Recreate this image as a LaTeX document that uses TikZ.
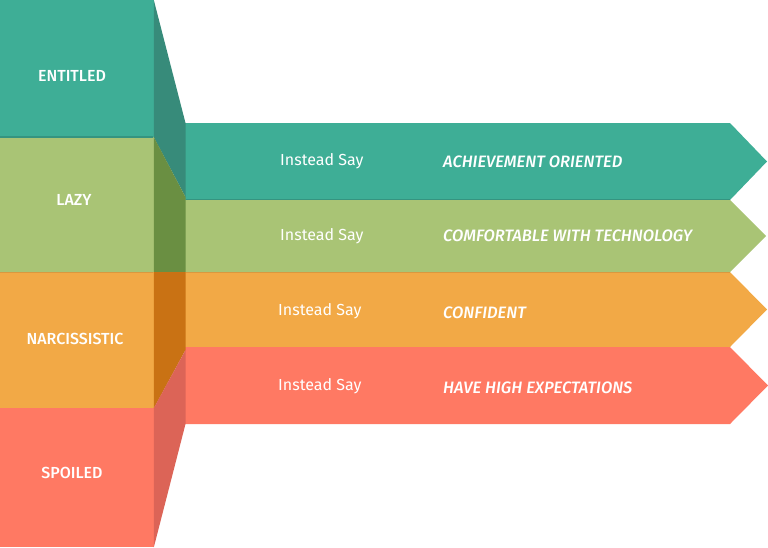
\documentclass[tikz,border=0pt]{standalone}
\usepackage{fontspec}
\setmainfont{Fira Sans}
\newfontfamily\mediumfont{Fira Sans Medium}[ItalicFont={Fira Sans Medium Italic}]
\usetikzlibrary{positioning}

\definecolor{tealc}{HTML}{3EAE96}
\definecolor{tealdark}{HTML}{378B7A}
\definecolor{greenc}{HTML}{A9C475}
\definecolor{greendark}{HTML}{6A8F42}
\definecolor{orangec}{HTML}{F2A946}
\definecolor{orangedark}{HTML}{C97214}
\definecolor{redc}{HTML}{FF7963}
\definecolor{reddark}{HTML}{DC6457}

\begin{document}
\begin{tikzpicture}[
    x=1pt, y=-1pt,
    block_style/.style={minimum width=154pt, inner sep=0pt, anchor=north west},
    name_style/.style={inner sep=0pt, text=white, font=\mediumfont\fontsize{16}{18}\selectfont},
    say_style/.style={anchor=west, inner sep=0pt, text=white, font=\fontsize{16}{18}\selectfont},
    phrase_style/.style={anchor=west, inner sep=0pt, text=white, font=\mediumfont\itshape\fontsize{16.5}{18}\selectfont}
]
    \useasboundingbox (0,0) rectangle (768,547);

    % Arrows
    \fill[tealc] (185,123) -- (730,123) -- (767,161.5) -- (730,200) -- (185,200) -- cycle;
    \fill[greenc] (185,200) -- (730,200) -- (766,236) -- (730,272) -- (185,272) -- cycle;
    \fill[orangec] (185,272) -- (730,272) -- (767,309.5) -- (730,347) -- (185,347) -- cycle;
    \fill[redc] (185,347) -- (730,347) -- (768,385.5) -- (730,424) -- (185,424) -- cycle;

    % Left blocks
    \node[block_style, fill=tealc, minimum height=137pt] (entitled) at (0,0) {};
    \node[block_style, fill=greenc, minimum height=135pt] (lazy) at (0,137) {};
    \node[block_style, fill=orangec, minimum height=136pt] (narcissistic) at (0,272) {};
    \node[block_style, fill=redc, minimum height=139pt] (spoiled) at (0,408) {};

    % Connectors
    \fill[tealdark] ([xshift=-0.6pt]entitled.north east) -- (185.5,123) -- (185.5,197) -- ([xshift=-0.6pt]entitled.south east) -- cycle;
    \fill[greendark] ([xshift=-0.6pt]lazy.north east) -- (185.5,197) -- (185.5,272) -- ([xshift=-0.6pt]lazy.south east) -- cycle;
    \fill[orangedark] ([xshift=-0.6pt]narcissistic.north east) -- (185.5,272) -- (185.5,350) -- ([xshift=-0.6pt]narcissistic.south east) -- cycle;
    \fill[reddark] ([xshift=-0.6pt]spoiled.north east) -- (185.5,350) -- (185.5,424) -- ([xshift=-0.6pt]spoiled.south east) -- cycle;

    % Edges
    \draw[tealc!85!black, line width=1.5pt] (0,137) -- (153.4,137) (185.5,199.5) -- (730,199.5);
    \draw[orangec!90!black, line width=1.5pt] (0,272.5) -- (153.4,272.5) (185.5,272.5) -- (730,272.5);

    % Texts
    \node[name_style] (entitled_text) at (72,76) {ENTITLED};
    \node[name_style] (lazy_text) at (74,200) {LAZY};
    \node[name_style] (narcissistic_text) at (75,339) {NARCISSISTIC};
    \node[name_style] (spoiled_text) at (72,473) {SPOILED};

    \node[say_style] (say_a) at (280,161) {Instead Say};
    \node[say_style] (say_b) at (280,236) {Instead Say};
    \node[say_style] (say_c) at (278,311) {Instead Say};
    \node[say_style] (say_d) at (278,386) {Instead Say};

    \node[phrase_style] (phrase_a) at (443,162) {ACHIEVEMENT ORIENTED};
    \node[phrase_style] (phrase_b) at (443,236) {COMFORTABLE WITH TECHNOLOGY};
    \node[phrase_style] (phrase_c) at (443,313) {CONFIDENT};
    \node[phrase_style] (phrase_d) at (443,388) {HAVE HIGH EXPECTATIONS};

\end{tikzpicture}
\end{document}
